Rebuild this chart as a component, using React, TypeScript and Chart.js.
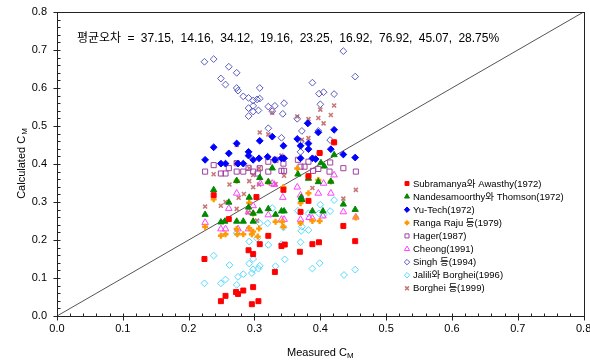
import React, { useEffect, useRef } from "react";
import { Chart, registerables } from "chart.js";
Chart.register(...registerables);

const TITLE = "평균오차 = 37.15, 14.16, 34.12, 19.16, 23.25, 16.92, 76.92, 45.07, 28.75%";
const X_TITLE = "Measured C";
const Y_TITLE = "Calculated C";
const SUB = "M";
const AXIS_MIN = 0;
const AXIS_MAX = 0.8;
const MAJOR_STEP = 0.1;
const MINOR_STEP = 0.02;

const seriesNames = [
  "Subramanya와 Awasthy(1972)",
  "Nandesamoorthy와 Thomson(1972)",
  "Yu-Tech(1972)",
  "Ranga Raju 등(1979)",
  "Hager(1987)",
  "Cheong(1991)",
  "Singh 등(1994)",
  "Jalili와 Borghei(1996)",
  "Borghei 등(1999)",
];

const subramanya: [number, number][] = [
  [0.224, 0.150], [0.249, 0.039], [0.256, 0.053], [0.272, 0.063], [0.275, 0.058], [0.283, 0.067],
  [0.291, 0.173], [0.298, 0.163], [0.298, 0.076], [0.296, 0.031], [0.306, 0.039], [0.308, 0.189],
  [0.321, 0.211], [0.331, 0.116], [0.341, 0.184], [0.346, 0.188], [0.369, 0.169], [0.388, 0.189],
  [0.398, 0.194], [0.453, 0.197], [0.238, 0.318], [0.303, 0.313], [0.344, 0.332], [0.261, 0.255],
  [0.382, 0.303], [0.370, 0.274], [0.435, 0.237], [0.399, 0.429], [0.421, 0.457], [0.382, 0.368],
];

const nandesamoorthy: [number, number][] = [
  [0.238, 0.332], [0.273, 0.356], [0.225, 0.267], [0.261, 0.299], [0.249, 0.247], [0.255, 0.249],
  [0.273, 0.249], [0.283, 0.249], [0.292, 0.312], [0.291, 0.286], [0.298, 0.270], [0.308, 0.276],
  [0.298, 0.249], [0.321, 0.282], [0.332, 0.267], [0.341, 0.276], [0.345, 0.276], [0.371, 0.312],
  [0.372, 0.306], [0.388, 0.276], [0.404, 0.276], [0.435, 0.294], [0.453, 0.280], [0.416, 0.354],
  [0.397, 0.353], [0.321, 0.353], [0.308, 0.364], [0.327, 0.389], [0.366, 0.373], [0.382, 0.362],
  [0.406, 0.394], [0.401, 0.403], [0.421, 0.424],
];

const yuTech: [number, number][] = [
  [0.238, 0.444], [0.225, 0.411], [0.249, 0.401], [0.256, 0.401], [0.261, 0.428], [0.273, 0.454],
  [0.275, 0.401], [0.283, 0.401], [0.291, 0.432], [0.291, 0.422], [0.298, 0.411], [0.308, 0.461],
  [0.307, 0.415], [0.327, 0.472], [0.320, 0.419], [0.331, 0.411], [0.344, 0.448], [0.341, 0.415],
  [0.345, 0.415], [0.365, 0.466], [0.370, 0.448], [0.382, 0.454], [0.382, 0.439], [0.370, 0.415],
  [0.388, 0.415], [0.397, 0.483], [0.421, 0.490], [0.416, 0.439], [0.435, 0.425], [0.453, 0.417],
  [0.393, 0.413], [0.381, 0.507],
];

const rangaRaju: [number, number][] = [
  [0.238, 0.307], [0.225, 0.235], [0.249, 0.211], [0.256, 0.215], [0.273, 0.229], [0.274, 0.215],
  [0.283, 0.215], [0.292, 0.231], [0.296, 0.215], [0.298, 0.222], [0.307, 0.230], [0.305, 0.209],
  [0.292, 0.298], [0.298, 0.270], [0.344, 0.339], [0.344, 0.235], [0.332, 0.248], [0.342, 0.248],
  [0.370, 0.244], [0.370, 0.297], [0.382, 0.323], [0.388, 0.250], [0.399, 0.250], [0.416, 0.354],
  [0.454, 0.259], [0.321, 0.353], [0.273, 0.356], [0.365, 0.388], [0.382, 0.368], [0.399, 0.429],
  [0.421, 0.457], [0.397, 0.358],
];

const hager: [number, number][] = [
  [0.225, 0.380], [0.238, 0.397], [0.249, 0.375], [0.256, 0.375], [0.261, 0.389], [0.273, 0.402],
  [0.273, 0.380], [0.283, 0.380], [0.291, 0.390], [0.298, 0.380], [0.305, 0.375], [0.308, 0.389],
  [0.321, 0.406], [0.321, 0.380], [0.332, 0.411], [0.341, 0.382], [0.345, 0.382], [0.366, 0.411],
  [0.370, 0.393], [0.376, 0.393], [0.414, 0.380], [0.435, 0.389], [0.454, 0.380], [0.415, 0.404],
  [0.382, 0.406], [0.389, 0.382], [0.397, 0.387], [0.344, 0.401],
];

const cheong: [number, number][] = [
  [0.225, 0.246], [0.261, 0.283], [0.249, 0.229], [0.256, 0.229], [0.273, 0.323], [0.275, 0.229],
  [0.291, 0.274], [0.291, 0.229], [0.309, 0.349], [0.327, 0.349], [0.321, 0.266], [0.343, 0.312],
  [0.341, 0.254], [0.345, 0.254], [0.365, 0.339], [0.383, 0.259], [0.388, 0.257], [0.397, 0.323],
  [0.416, 0.323], [0.435, 0.274], [0.454, 0.260], [0.370, 0.318], [0.370, 0.254], [0.404, 0.263],
  [0.330, 0.346], [0.421, 0.371], [0.405, 0.349], [0.298, 0.290],
];

const singh: [number, number][] = [
  [0.224, 0.669], [0.238, 0.676], [0.261, 0.656], [0.273, 0.640], [0.249, 0.625], [0.256, 0.609],
  [0.273, 0.600], [0.275, 0.593], [0.283, 0.578], [0.291, 0.574], [0.298, 0.567], [0.304, 0.570],
  [0.308, 0.572], [0.298, 0.553], [0.291, 0.547], [0.298, 0.538], [0.306, 0.541], [0.291, 0.526],
  [0.308, 0.600], [0.321, 0.551], [0.331, 0.553], [0.345, 0.560], [0.327, 0.539], [0.343, 0.532],
  [0.365, 0.519], [0.321, 0.494], [0.381, 0.507], [0.388, 0.614], [0.398, 0.585], [0.405, 0.589],
  [0.421, 0.584], [0.400, 0.557], [0.435, 0.697], [0.453, 0.630], [0.341, 0.469], [0.372, 0.487],
  [0.370, 0.459], [0.370, 0.432], [0.397, 0.487], [0.415, 0.463],
];

const jalili: [number, number][] = [
  [0.224, 0.086], [0.238, 0.159], [0.249, 0.086], [0.256, 0.096], [0.262, 0.134], [0.273, 0.082],
  [0.275, 0.103], [0.283, 0.110], [0.292, 0.138], [0.298, 0.150], [0.296, 0.113], [0.298, 0.123],
  [0.306, 0.125], [0.308, 0.132], [0.292, 0.196], [0.304, 0.204], [0.321, 0.187], [0.332, 0.131],
  [0.341, 0.189], [0.346, 0.149], [0.370, 0.194], [0.388, 0.125], [0.399, 0.139], [0.436, 0.108],
  [0.453, 0.122], [0.327, 0.284], [0.320, 0.244], [0.344, 0.233], [0.366, 0.277], [0.372, 0.235],
  [0.371, 0.224], [0.382, 0.226], [0.382, 0.270], [0.400, 0.293], [0.398, 0.270], [0.405, 0.267],
  [0.421, 0.305], [0.415, 0.276], [0.273, 0.218], [0.308, 0.244],
];

const borghei: [number, number][] = [
  [0.327, 0.535], [0.365, 0.525], [0.382, 0.518], [0.397, 0.521], [0.400, 0.543], [0.405, 0.507],
  [0.416, 0.529], [0.421, 0.554], [0.308, 0.483], [0.321, 0.478], [0.273, 0.450], [0.341, 0.422],
  [0.372, 0.464], [0.382, 0.468], [0.272, 0.404], [0.238, 0.373], [0.292, 0.389], [0.292, 0.355],
  [0.298, 0.371], [0.307, 0.389], [0.345, 0.369], [0.262, 0.346], [0.298, 0.339], [0.307, 0.346],
  [0.332, 0.347], [0.276, 0.311], [0.284, 0.321], [0.256, 0.300], [0.249, 0.290], [0.225, 0.288],
  [0.273, 0.282], [0.388, 0.337], [0.435, 0.309], [0.454, 0.332], [0.290, 0.272], [0.304, 0.251],
];

const diagonal: [number, number][] = [[0, 0], [0.8, 0.8]];

type Sty = { style: string; fill: string; stroke: string; r: number; lw: number };
const styles: Sty[] = [
  { style: "rect", fill: "#ff0000", stroke: "#ff0000", r: 3.5, lw: 1 },
  { style: "triangle", fill: "#008a00", stroke: "#008a00", r: 3.6, lw: 1 },
  { style: "rectRot", fill: "#0000ff", stroke: "#0000ff", r: 3.4, lw: 1 },
  { style: "cross", fill: "#ff9900", stroke: "#ff9900", r: 3, lw: 2.4 },
  { style: "rect", fill: "rgba(0,0,0,0)", stroke: "#a040a0", r: 3.6, lw: 1 },
  { style: "triangle", fill: "rgba(0,0,0,0)", stroke: "#ff40ff", r: 3.8, lw: 1 },
  { style: "rectRot", fill: "rgba(0,0,0,0)", stroke: "#5a5abf", r: 3.4, lw: 1 },
  { style: "rectRot", fill: "rgba(0,0,0,0)", stroke: "#55d8ff", r: 3.4, lw: 1 },
  { style: "crossRot", fill: "#c87878", stroke: "#c87878", r: 2.8, lw: 1.6 },
];

const allSeries = [subramanya, nandesamoorthy, yuTech, rangaRaju, hager, cheong, singh, jalili, borghei];

function drawMarker(ctx: CanvasRenderingContext2D, s: Sty, x: number, y: number) {
  ctx.save();
  ctx.fillStyle = s.fill;
  ctx.strokeStyle = s.stroke;
  ctx.lineWidth = s.lw;
  const r = s.r;
  ctx.beginPath();
  if (s.style === "rect") {
    const h = r * Math.SQRT1_2;
    ctx.rect(x - h, y - h, 2 * h, 2 * h);
    ctx.fill();
    ctx.stroke();
  } else if (s.style === "rectRot") {
    ctx.moveTo(x, y - r);
    ctx.lineTo(x + r, y);
    ctx.lineTo(x, y + r);
    ctx.lineTo(x - r, y);
    ctx.closePath();
    ctx.fill();
    ctx.stroke();
  } else if (s.style === "triangle") {
    const a = (Math.PI * 2) / 3;
    ctx.moveTo(x, y - r);
    ctx.lineTo(x + Math.sin(a) * r, y - Math.cos(a) * r);
    ctx.lineTo(x - Math.sin(a) * r, y - Math.cos(a) * r);
    ctx.closePath();
    ctx.fill();
    ctx.stroke();
  } else if (s.style === "cross") {
    ctx.moveTo(x - r, y);
    ctx.lineTo(x + r, y);
    ctx.moveTo(x, y - r);
    ctx.lineTo(x, y + r);
    ctx.stroke();
  } else if (s.style === "crossRot") {
    const d = r * Math.SQRT1_2 * 1.2;
    ctx.moveTo(x - d, y - d);
    ctx.lineTo(x + d, y + d);
    ctx.moveTo(x - d, y + d);
    ctx.lineTo(x + d, y - d);
    ctx.stroke();
  }
  ctx.restore();
}

const FONT = "'Liberation Sans', Arial, 'Noto Sans CJK KR', sans-serif";

const decorPlugin = {
  id: "decor",
  afterDraw(chart: any) {
    const ctx: CanvasRenderingContext2D = chart.ctx;
    const { left, right, top, bottom } = chart.chartArea;
    const xs = chart.scales.x;
    const ys = chart.scales.y;
    ctx.save();
    // frame
    ctx.strokeStyle = "#222";
    ctx.lineWidth = 1;
    ctx.strokeRect(Math.round(left) + 0.5, Math.round(top) + 0.5, Math.round(right - left) - 1 + 1, Math.round(bottom - top));
    // ticks
    ctx.beginPath();
    const nMinor = Math.round((AXIS_MAX - AXIS_MIN) / MINOR_STEP);
    for (let i = 0; i <= nMinor; i++) {
      const v = AXIS_MIN + i * MINOR_STEP;
      const major = i % Math.round(MAJOR_STEP / MINOR_STEP) === 0;
      const px = Math.round(xs.getPixelForValue(v)) + 0.5;
      const py = Math.round(ys.getPixelForValue(v)) + 0.5;
      const by = Math.round(bottom) + 0.5;
      const lx = Math.round(left) + 0.5;
      if (major) {
        ctx.moveTo(px, by - 3);
        ctx.lineTo(px, by + 4);
        ctx.moveTo(lx - 4, py);
        ctx.lineTo(lx + 3, py);
      } else {
        ctx.moveTo(px, by - 3);
        ctx.lineTo(px, by);
        ctx.moveTo(lx, py);
        ctx.lineTo(lx + 3, py);
      }
    }
    ctx.stroke();

    // title
    ctx.fillStyle = "#000";
    ctx.font = "12px " + FONT;
    ctx.textBaseline = "alphabetic";
    ctx.textAlign = "left";
    try { (ctx as any).wordSpacing = "3px"; } catch (e) {}
    ctx.fillText(TITLE, 77, 42);
    try { (ctx as any).wordSpacing = "0px"; } catch (e) {}

    // legend
    ctx.font = "9.5px " + FONT;
    ctx.textBaseline = "middle";
    seriesNames.forEach((name, i) => {
      const y = 183.5 + i * 13.1;
      drawMarker(ctx, { ...styles[i], r: styles[i].r * 0.8 }, 407, y);
      ctx.fillStyle = "#000";
      ctx.fillText(name, 413, y + 0.5);
    });

    // axis titles
    ctx.font = "11px " + FONT;
    ctx.textBaseline = "alphabetic";
    const xw = ctx.measureText(X_TITLE).width;
    ctx.font = "8px " + FONT;
    const sw = ctx.measureText(SUB).width;
    const cx = (left + right) / 2;
    const x0 = cx - (xw + sw) / 2;
    ctx.font = "11px " + FONT;
    ctx.fillText(X_TITLE, x0, 356);
    ctx.font = "8px " + FONT;
    ctx.fillText(SUB, x0 + xw, 358);

    ctx.translate(25, (top + bottom) / 2);
    ctx.rotate(-Math.PI / 2);
    ctx.font = "11px " + FONT;
    const yw = ctx.measureText(Y_TITLE).width;
    const y0 = -(yw + sw) / 2;
    ctx.fillText(Y_TITLE, y0, 0);
    ctx.font = "8px " + FONT;
    ctx.fillText(SUB, y0 + yw + 1, 2);
    ctx.restore();
  },
};

export default function App() {
  const ref = useRef<HTMLCanvasElement>(null);
  useEffect(() => {
    if (!ref.current) return;
    const datasets: any[] = allSeries.map((pts, i) => ({
      type: "scatter",
      label: seriesNames[i],
      data: pts.map(([x, y]) => ({ x, y })),
      pointStyle: styles[i].style,
      pointRadius: styles[i].r,
      pointBackgroundColor: styles[i].fill,
      pointBorderColor: styles[i].stroke,
      pointBorderWidth: styles[i].lw,
      order: i,
    }));
    datasets.push({
      type: "line",
      label: "1:1",
      data: diagonal.map(([x, y]) => ({ x, y })),
      borderColor: "#555",
      borderWidth: 1,
      pointRadius: 0,
      fill: false,
      order: 20,
    });
    const tickFont = { family: FONT, size: 11 };
    const chart = new Chart(ref.current, {
      type: "scatter",
      data: { datasets },
      options: {
        animation: false,
        responsive: false,
        devicePixelRatio: 1,
        layout: { padding: { left: 0, right: 5, top: 12, bottom: 0 } },
        plugins: { legend: { display: false }, tooltip: { enabled: false }, title: { display: false } },
        scales: {
          x: {
            type: "linear",
            min: AXIS_MIN,
            max: AXIS_MAX,
            grid: { display: false, drawTicks: false },
            border: { display: false },
            ticks: {
              stepSize: MAJOR_STEP,
              padding: 6,
              color: "#000",
              font: tickFont,
              maxRotation: 0,
              callback: (v: any) => Number(v).toFixed(1),
            },
            afterFit: (s: any) => {
              s.height = 46;
              s.paddingLeft = 0;
              s.paddingRight = 0;
            },
          },
          y: {
            type: "linear",
            min: AXIS_MIN,
            max: AXIS_MAX,
            grid: { display: false, drawTicks: false },
            border: { display: false },
            ticks: {
              stepSize: MAJOR_STEP,
              padding: 10,
              color: "#000",
              font: tickFont,
              callback: (v: any) => Number(v).toFixed(1),
            },
            afterFit: (s: any) => {
              s.width = 57;
              s.paddingTop = 0;
              s.paddingBottom = 0;
            },
          },
        },
      } as any,
      plugins: [decorPlugin],
    });
    return () => chart.destroy();
  }, []);
  return (
    <div style={{ position: "fixed", left: 0, top: 0, width: 590, height: 362, background: "#fff" }}>
      <canvas ref={ref} width={590} height={362} style={{ width: 590, height: 362, display: "block" }} />
    </div>
  );
}
